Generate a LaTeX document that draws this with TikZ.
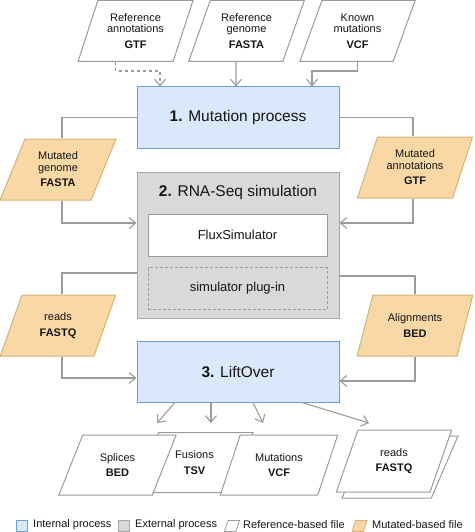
\documentclass[tikz,border=0pt]{standalone}
\usepackage{fontspec}
\setmainfont{Liberation Sans}
\usetikzlibrary{shapes.geometric,arrows.meta,positioning}

\definecolor{procfill}{HTML}{DAE8FC}
\definecolor{procdraw}{HTML}{6C9FE0}
\definecolor{extfill}{HTML}{D9D9D9}
\definecolor{extdraw}{HTML}{A6A6A6}
\definecolor{mutfill}{HTML}{F9D8A5}
\definecolor{mutdraw}{HTML}{D6B276}
\definecolor{wire}{HTML}{9B9B9B}
\definecolor{ink}{HTML}{151515}

\tikzset{
  file/.style={trapezium, trapezium left angle=67, trapezium right angle=113,
    trapezium stretches=true, draw=wire, fill=white, line width=1pt,
    minimum width=116pt, minimum height=61pt, inner sep=0.5pt, align=center,
    text=ink, font=\fontsize{11}{11.5}\selectfont},
  mutfile/.style={file, fill=mutfill, draw=mutdraw},
  outfile/.style={file, trapezium left angle=63, trapezium right angle=117,
    minimum width=118pt, minimum height=60pt},
  proc/.style={draw=procdraw, fill=procfill, line width=1pt, minimum width=202pt,
    minimum height=61pt, text=ink, font=\fontsize{15.5}{18}\selectfont},
  ext/.style={draw=extdraw, fill=extfill, line width=1pt, minimum width=202pt,
    minimum height=146pt},
  inner/.style={draw=wire, fill=white, line width=0.8pt, minimum width=179pt,
    minimum height=42pt, text=ink, font=\fontsize{13}{15}\selectfont},
  wireline/.style={draw=wire, line width=1.1pt},
  flow/.style={wireline, -{Straight Barb[length=6.5pt,width=11pt]}},
  legsq/.style={minimum size=11pt, inner sep=0pt, line width=0.8pt},
  legfile/.style={trapezium, trapezium left angle=65, trapezium right angle=115,
    trapezium stretches=true, minimum width=15pt, minimum height=11pt,
    inner sep=0.5pt, line width=0.8pt},
  legtext/.style={anchor=west, inner sep=0pt, text=ink, font=\fontsize{11}{12}\selectfont}
}

\begin{document}
\begin{tikzpicture}[x=1pt,y=-1pt]
\useasboundingbox (0,0) rectangle (474,532);

% input files
\node[file] (refann) at (135.5,31) {Reference\\annotations\\[4pt]\textbf{GTF}};
\node[file] (refgen) at (246.5,31) {Reference\\genome\\[4pt]\textbf{FASTA}};
\node[file] (known) at (357.5,31) {Known\\mutations\\[4pt]\textbf{VCF}};

% processes
\node[proc] (mut) at (238,117.5) {\textbf{1.} Mutation process};
\node[ext] (rna) at (238,245) {};
\node[text=ink, font=\fontsize{15.5}{18}\selectfont] (rnatitle) at (238,192) {\textbf{2.} RNA-Seq simulation};
\node[inner] (flux) at (237.5,235) {FluxSimulator};
\node[inner, densely dashed, fill=none] (plugin) at (237.5,288.5) {simulator plug-in};
\node[proc] (lift) at (238,371.5) {\textbf{3.} LiftOver};

% mutated files
\node[mutfile] (mg) at (58,169.5) {Mutated\\genome\\[4pt]\textbf{FASTA}};
\node[mutfile] (ma) at (415,167.5) {Mutated\\annotations\\[4pt]\textbf{GTF}};
\node[mutfile] (rd) at (58,325.5) {reads\\[4pt]\textbf{FASTQ}};
\node[mutfile] (al) at (415,325.5) {Alignments\\[4pt]\textbf{BED}};

% output files
\node[outfile] (fus) at (194.5,462.5) {Fusions\\[4pt]\textbf{TSV}};
\node[outfile] (spl) at (117.5,465) {Splices\\[4pt]\textbf{BED}};
\node[outfile] (mutout) at (279,465) {Mutations\\[4pt]\textbf{VCF}};
\node[file, minimum height=62pt] (rdback) at (400,467) {};
\node[file, minimum height=62pt] (rdout) at (394,461) {reads\\[4pt]\textbf{FASTQ}};

% connectors
\draw[flow, dashed] ([xshift=-20pt]refann.south) -- ++(0,9) -| ([xshift=-78pt]mut.north);
\draw[flow] ([xshift=-10.5pt]refgen.south) -- ([xshift=-2pt]mut.north);
\draw[flow] (known.south) -- ++(0,9) -| ([xshift=74pt]mut.north);

\draw[wireline] (mut.west) -| ([xshift=4pt]mg.north);
\draw[wireline] (mut.east) -| ([xshift=-2pt]ma.north);
\draw[flow] ([xshift=4pt]mg.south) |- ([yshift=22pt]rna.west);
\draw[flow] ([xshift=-2pt]ma.south) |- ([yshift=22pt]rna.east);
\draw[wireline] ([yshift=-28pt]rna.west) -| ([xshift=4pt]rd.north);
\draw[wireline] ([yshift=-31pt]rna.east) -| (al.north);
\draw[flow] ([xshift=4pt]rd.south) |- ([yshift=-6.5pt]lift.west);
\draw[flow] (al.south) |- ([yshift=-9.5pt]lift.east);

\coordinate (tospl) at (157,423);
\coordinate (tofus) at (211,423);
\coordinate (tomut) at (263,423);
\coordinate (tordo) at (369,423);
\draw[flow] ([xshift=-63pt]lift.south) -- (tospl);
\draw[flow] ([xshift=-27pt]lift.south) -- (tofus);
\draw[flow] ([xshift=15pt]lift.south) -- (tomut);
\draw[flow] ([xshift=64pt]lift.south) -- (tordo);

% legend
\node[legsq, draw=procdraw, fill=procfill] (lgint) at (21.5,526) {};
\node[legtext] (lginttext) at (33,525) {Internal process};
\node[legsq, draw=extdraw, fill=extfill] (lgext) at (124,526) {};
\node[legtext] (lgexttext) at (135,525) {External process};
\node[legfile, draw=wire, fill=white] (lgref) at (232,526) {};
\node[legtext] (lgreftext) at (243,525) {Reference-based file};
\node[legfile, draw=mutdraw, fill=mutfill] (lgmut) at (359.5,526) {};
\node[legtext] (lgmuttext) at (372,525) {Mutated-based file};
\end{tikzpicture}
\end{document}
